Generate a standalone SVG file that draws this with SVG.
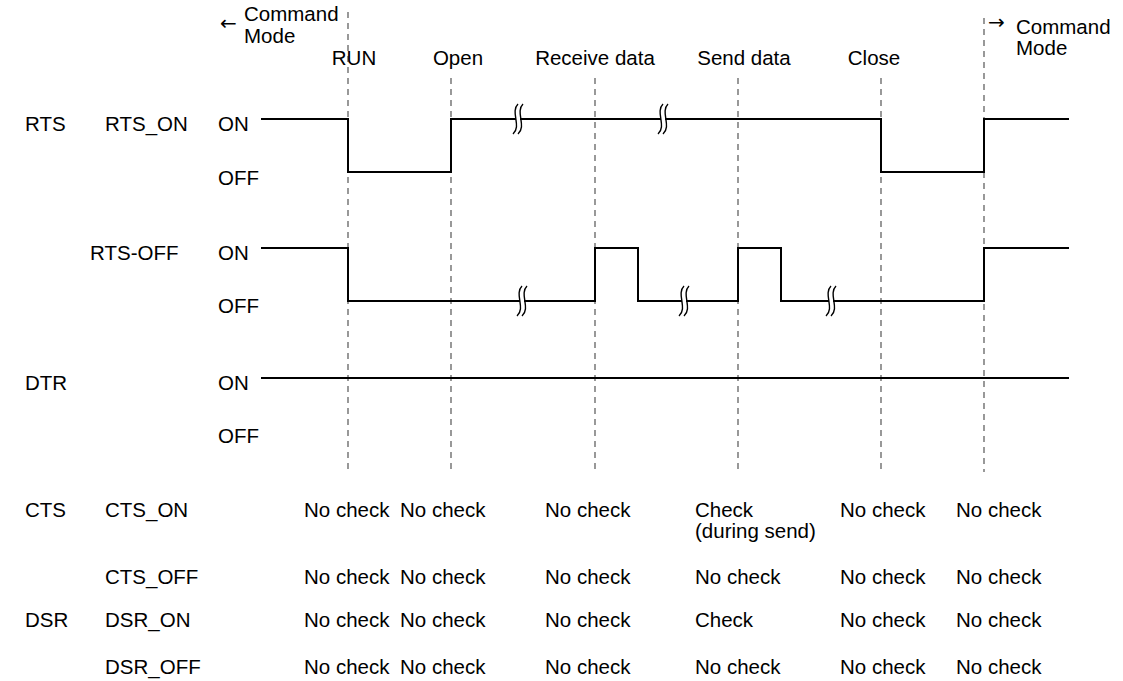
<svg xmlns="http://www.w3.org/2000/svg" width="1123" height="681" viewBox="0 0 1123 681">
<style>
text{font-family:"Liberation Sans",Arial,sans-serif;font-size:20.5px;fill:#000}
.arr{font-family:"DejaVu Sans",sans-serif;font-size:20px}
.sig{fill:none;stroke:#000;stroke-width:2}
.dash{fill:none;stroke:#555;stroke-width:1.2;stroke-dasharray:6 5}
.brk{fill:none;stroke:#000;stroke-width:1.4}
</style>
<rect width="1123" height="681" fill="#fff"/>
<g id="guides">
<line class="dash" x1="348" y1="12" x2="348" y2="472"/>
<line class="dash" x1="451" y1="78" x2="451" y2="472"/>
<line class="dash" x1="595" y1="78" x2="595" y2="472"/>
<line class="dash" x1="738" y1="78" x2="738" y2="472"/>
<line class="dash" x1="881" y1="78" x2="881" y2="472"/>
<line class="dash" x1="984" y1="18" x2="984" y2="472"/>
</g>
<g id="header">
<text class="arr" x="220" y="30">←</text>
<text x="244" y="21">Command</text>
<text x="244" y="43">Mode</text>
<text x="354" y="65" text-anchor="middle">RUN</text>
<text x="458" y="65" text-anchor="middle">Open</text>
<text x="595" y="65" text-anchor="middle">Receive data</text>
<text x="744" y="65" text-anchor="middle">Send data</text>
<text x="874" y="65" text-anchor="middle">Close</text>
<text class="arr" x="988" y="29">→</text>
<text x="1016" y="34">Command</text>
<text x="1016" y="55">Mode</text>
</g>
<g id="rts">
<text x="25" y="131">RTS</text>
<text x="105" y="131">RTS_ON</text>
<text x="218" y="131">ON</text>
<text x="218" y="185">OFF</text>
<polyline class="sig" points="261,119 348,119 348,172 451,172 451,119 881,119 881,172 984,172 984,119 1069,119"/>
<text x="90" y="260">RTS-OFF</text>
<text x="218" y="260">ON</text>
<text x="218" y="313">OFF</text>
<polyline class="sig" points="261,248 348,248 348,301 595,301 595,248 638,248 638,301 738,301 738,248 781,248 781,301 984,301 984,248 1069,248"/>
</g>
<g id="breaks">
<g transform="translate(518,119)"><rect x="-2" y="-3" width="4" height="6" fill="#fff"/><path class="brk" d="M0,-15 C-8,-7 4,7 -5,15 M5,-15 C-3,-7 9,7 0,15"/></g>
<g transform="translate(663,119)"><rect x="-2" y="-3" width="4" height="6" fill="#fff"/><path class="brk" d="M0,-15 C-8,-7 4,7 -5,15 M5,-15 C-3,-7 9,7 0,15"/></g>
<g transform="translate(522,301)"><rect x="-2" y="-3" width="4" height="6" fill="#fff"/><path class="brk" d="M0,-15 C-8,-7 4,7 -5,15 M5,-15 C-3,-7 9,7 0,15"/></g>
<g transform="translate(684,301)"><rect x="-2" y="-3" width="4" height="6" fill="#fff"/><path class="brk" d="M0,-15 C-8,-7 4,7 -5,15 M5,-15 C-3,-7 9,7 0,15"/></g>
<g transform="translate(831,301)"><rect x="-2" y="-3" width="4" height="6" fill="#fff"/><path class="brk" d="M0,-15 C-8,-7 4,7 -5,15 M5,-15 C-3,-7 9,7 0,15"/></g>
</g>
<g id="dtr">
<text x="25" y="390">DTR</text>
<text x="218" y="390">ON</text>
<text x="218" y="443">OFF</text>
<line class="sig" x1="261" y1="378" x2="1069" y2="378"/>
</g>
<g id="table">
<text x="25" y="517">CTS</text>
<text x="105" y="517">CTS_ON</text>
<text x="304" y="517">No check</text>
<text x="400" y="517">No check</text>
<text x="545" y="517">No check</text>
<text x="695" y="517">Check</text>
<text x="695" y="538">(during send)</text>
<text x="840" y="517">No check</text>
<text x="956" y="517">No check</text>
<text x="105" y="584">CTS_OFF</text>
<text x="304" y="584">No check</text>
<text x="400" y="584">No check</text>
<text x="545" y="584">No check</text>
<text x="695" y="584">No check</text>
<text x="840" y="584">No check</text>
<text x="956" y="584">No check</text>
<text x="25" y="627">DSR</text>
<text x="105" y="627">DSR_ON</text>
<text x="304" y="627">No check</text>
<text x="400" y="627">No check</text>
<text x="545" y="627">No check</text>
<text x="695" y="627">Check</text>
<text x="840" y="627">No check</text>
<text x="956" y="627">No check</text>
<text x="105" y="674">DSR_OFF</text>
<text x="304" y="674">No check</text>
<text x="400" y="674">No check</text>
<text x="545" y="674">No check</text>
<text x="695" y="674">No check</text>
<text x="840" y="674">No check</text>
<text x="956" y="674">No check</text>
</g>
</svg>
